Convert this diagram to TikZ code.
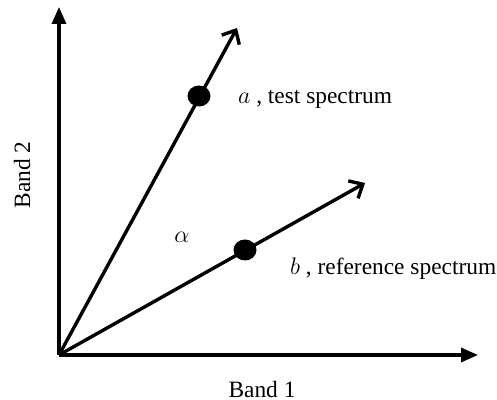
\documentclass[tikz,border=0pt]{standalone}
\usepackage{fontspec}
\setmainfont{Liberation Serif}
\usetikzlibrary{arrows.meta,positioning}
\tikzset{axis/.style={line width=1.7pt,-{Triangle[length=8.5pt,width=7pt]}},
  vec/.style={line width=1.7pt,-{Straight Barb[length=5.5pt,width=10pt,line width=1.7pt]}},
  spot/.style={ellipse,fill=black,minimum width=11.5pt,minimum height=10.5pt,inner sep=0pt},
  lbl/.style={font=\fontsize{11.7}{13}\selectfont}}
\usetikzlibrary{shapes.geometric}

\begin{document}
\begin{tikzpicture}[x=0.5pt,y=0.5pt]
\useasboundingbox (-59,-45) rectangle (438,355);
\coordinate (O) at (0,0);
\coordinate (ytip) at (0,348);
\coordinate (xtip) at (419,0);
\coordinate (atip) at (178,327);
\coordinate (btip) at (306,172);
% axes
\draw[axis] (O) -- (ytip);
\draw[axis] (O) -- (xtip);
% the two spectra
\draw[vec] (O) -- (atip);
\draw[vec] (O) -- (btip);
\node[spot] (adot) at (140,259) {};
\node[spot] (bdot) at (186,105) {};
\node[lbl,anchor=west] (alab) at (172,256) {$a$ , test spectrum};
\node[lbl,anchor=west] (blab) at (224,86) {$b$ , reference spectrum};
\node[lbl] (ang) at (123,118) {$\alpha$};
\node[lbl] (band1) at (203,-34) {Band 1};
\node[lbl,rotate=90] (band2) at (-37,180) {Band 2};
\end{tikzpicture}
\end{document}
